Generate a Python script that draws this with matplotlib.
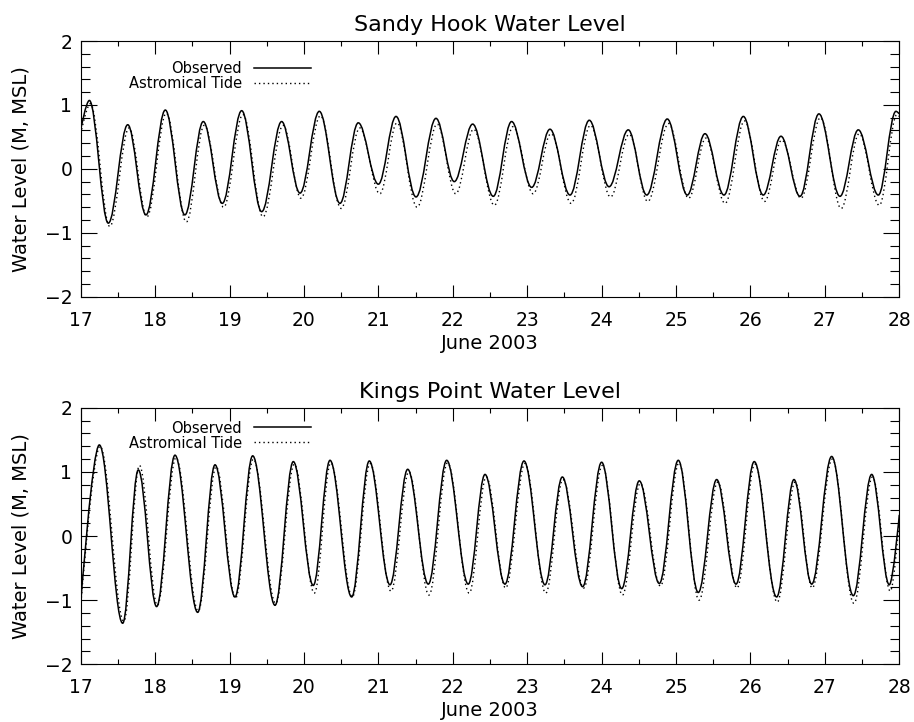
import matplotlib
matplotlib.use("Agg")
import matplotlib.pyplot as plt
from matplotlib.path import Path
from matplotlib.patches import PathPatch
from matplotlib.lines import Line2D
from matplotlib.ticker import MultipleLocator

# high / low water times (day of June 2003) and levels (m, MSL)
sh_obs_t = [17.0, 17.116, 17.371, 17.632, 17.877, 18.137, 18.40, 18.647, 18.903, 19.163, 19.432,
            19.70, 19.947, 20.206, 20.484, 20.73, 21.0, 21.237, 21.506, 21.774, 22.02, 22.267,
            22.544, 22.79, 23.06, 23.306, 23.575, 23.834, 24.10, 24.358, 24.606, 24.882, 25.151,
            25.389, 25.644, 25.904, 26.172, 26.41, 26.666, 26.92, 27.203, 27.449, 27.718, 27.955, 28.0]
sh_obs_v = [0.61, 1.07, -0.85, 0.69, -0.72, 0.92, -0.72, 0.74, -0.54, 0.91, -0.67,
            0.74, -0.38, 0.90, -0.54, 0.72, -0.24, 0.82, -0.44, 0.79, -0.20, 0.70,
            -0.43, 0.74, -0.29, 0.62, -0.41, 0.76, -0.28, 0.61, -0.41, 0.78, -0.41,
            0.55, -0.41, 0.82, -0.41, 0.51, -0.43, 0.86, -0.43, 0.61, -0.41, 0.90, 0.86]
sh_tide_t = [17.0, 17.13, 17.39, 17.65, 17.89, 18.15, 18.42, 18.66, 18.92, 19.18, 19.45,
             19.72, 19.96, 20.22, 20.50, 20.75, 21.02, 21.25, 21.52, 21.79, 22.04, 22.28,
             22.56, 22.81, 23.08, 23.32, 23.59, 23.85, 24.12, 24.37, 24.62, 24.90, 25.17,
             25.40, 25.66, 25.92, 26.19, 26.42, 26.68, 26.94, 27.22, 27.46, 27.73, 27.97, 28.0]
sh_tide_v = [0.55, 1.02, -0.90, 0.64, -0.75, 0.87, -0.83, 0.68, -0.60, 0.85, -0.75,
             0.68, -0.46, 0.83, -0.62, 0.64, -0.39, 0.72, -0.60, 0.70, -0.39, 0.62,
             -0.57, 0.66, -0.39, 0.55, -0.54, 0.68, -0.44, 0.54, -0.51, 0.71, -0.46,
             0.48, -0.54, 0.75, -0.51, 0.45, -0.46, 0.80, -0.62, 0.55, -0.57, 0.85, 0.82]

kp_obs_t = [17.0, 17.25, 17.564, 17.774, 18.02, 18.267, 18.572, 18.805, 19.073, 19.311, 19.611,
            19.857, 20.125, 20.35, 20.641, 20.878, 21.156, 21.394, 21.671, 21.918, 22.208,
            22.433, 22.701, 22.957, 23.239, 23.472, 23.745, 24.0, 24.27, 24.506, 24.775,
            25.03, 25.299, 25.546, 25.806, 26.051, 26.352, 26.585, 26.823, 27.091, 27.382,
            27.629, 27.866, 28.0]
kp_obs_v = [-1.05, 1.42, -1.36, 1.03, -1.10, 1.26, -1.19, 1.11, -0.95, 1.25, -1.08,
            1.16, -0.77, 1.18, -0.95, 1.17, -0.76, 1.04, -0.75, 1.18, -0.75,
            0.96, -0.75, 1.17, -0.76, 0.92, -0.79, 1.15, -0.82, 0.86, -0.74,
            1.18, -0.88, 0.88, -0.75, 1.16, -0.95, 0.88, -0.75, 1.24, -0.93,
            0.96, -0.76, 0.33]
kp_tide_t = [17.0, 17.26, 17.58, 17.79, 18.03, 18.28, 18.58, 18.82, 19.08, 19.32, 19.62,
             19.87, 20.14, 20.36, 20.65, 20.89, 21.17, 21.41, 21.68, 21.93, 22.22,
             22.45, 22.71, 22.97, 23.25, 23.48, 23.76, 24.01, 24.28, 24.52, 24.79,
             25.04, 25.31, 25.56, 25.82, 26.06, 26.36, 26.60, 26.83, 27.10, 27.39,
             27.64, 27.88, 28.0]
kp_tide_v = [-1.10, 1.40, -1.33, 1.10, -1.08, 1.22, -1.17, 1.08, -0.97, 1.20, -1.05,
             1.12, -0.89, 1.14, -0.95, 1.13, -0.86, 1.00, -0.92, 1.14, -0.89,
             0.92, -0.81, 1.13, -0.89, 0.88, -0.81, 1.10, -0.92, 0.82, -0.78,
             1.14, -1.00, 0.84, -0.81, 1.12, -1.03, 0.84, -0.81, 1.20, -1.05,
             0.92, -0.86, 0.25]

day_ticks = list(range(17, 29))
titles = ["Sandy Hook Water Level", "Kings Point Water Level"]


def tide_curve(t, v, **kw):
    # smooth curve through the high/low waters: cubic bezier with flat tangents
    # at each extreme (first and last points are just chart edges)
    k = 0.3634
    verts = [(t[0], v[0])]
    codes = [Path.MOVETO]
    n = len(t)
    for i in range(n - 1):
        d = t[i + 1] - t[i]
        c1 = (t[i] + k * d, v[i]) if i > 0 else (t[i], v[i])
        c2 = (t[i + 1] - k * d, v[i + 1]) if i < n - 2 else (t[i + 1], v[i + 1])
        verts += [c1, c2, (t[i + 1], v[i + 1])]
        codes += [Path.CURVE4] * 3
    return PathPatch(Path(verts, codes), fill=False, **kw)


plt.rcParams['font.family'] = ['DejaVu Sans']
fig = plt.figure(figsize=(9.14, 7.22), dpi=100)
ax1 = fig.add_axes([0.0883, 0.5891, 0.8956, 0.3541])
ax2 = fig.add_axes([0.0883, 0.0799, 0.8956, 0.3554])

panels = [(ax1, sh_obs_t, sh_obs_v, sh_tide_t, sh_tide_v, 0.92),
          (ax2, kp_obs_t, kp_obs_v, kp_tide_t, kp_tide_v, 0.95)]

for (ax, ot, ov, tt, tv, leg_y), title in zip(panels, titles):
    ax.add_patch(tide_curve(tt, tv, edgecolor='black', lw=1.0, linestyle=(0, (1, 2.2))))
    ax.add_patch(tide_curve(ot, ov, edgecolor='black', lw=1.1))
    ax.set_xlim(17, 28)
    ax.set_ylim(-2, 2)
    ax.set_xticks(day_ticks)
    ax.set_xticklabels([str(d) for d in day_ticks])
    ax.set_yticks([-2, -1, 0, 1, 2])
    ax.xaxis.set_minor_locator(MultipleLocator(0.5))
    ax.yaxis.set_minor_locator(MultipleLocator(0.2))
    ax.tick_params(axis='both', which='both', direction='in', top=True, right=True,
                   width=0.8, colors='black')
    ax.tick_params(axis='x', which='major', length=9, pad=10, labelsize=13.5)
    ax.tick_params(axis='x', which='minor', length=3.6)
    ax.tick_params(axis='y', which='major', length=11.3, pad=6, labelsize=13.5)
    ax.tick_params(axis='y', which='minor', length=6.5)
    for s in ax.spines.values():
        s.set_linewidth(0.8)
    ax.set_xlabel("June 2003", fontsize=14, labelpad=3)
    ax.set_ylabel("Water Level (M, MSL)", fontsize=14, labelpad=10)
    ax.set_title(title, fontsize=16, pad=7)

    handles = [Line2D([], [], color='black', lw=1.1),
               Line2D([], [], color='black', lw=1.0, linestyle=(0, (1, 2.2)))]
    ax.legend(handles, ["Observed", "Astromical Tide"], loc='upper right',
              bbox_to_anchor=(0.281, leg_y), frameon=False, markerfirst=False,
              fontsize=10.5, handlelength=3.9, handletextpad=0.8, labelspacing=0.0,
              borderpad=0, borderaxespad=0)

fig.savefig("out.png", dpi=100)
